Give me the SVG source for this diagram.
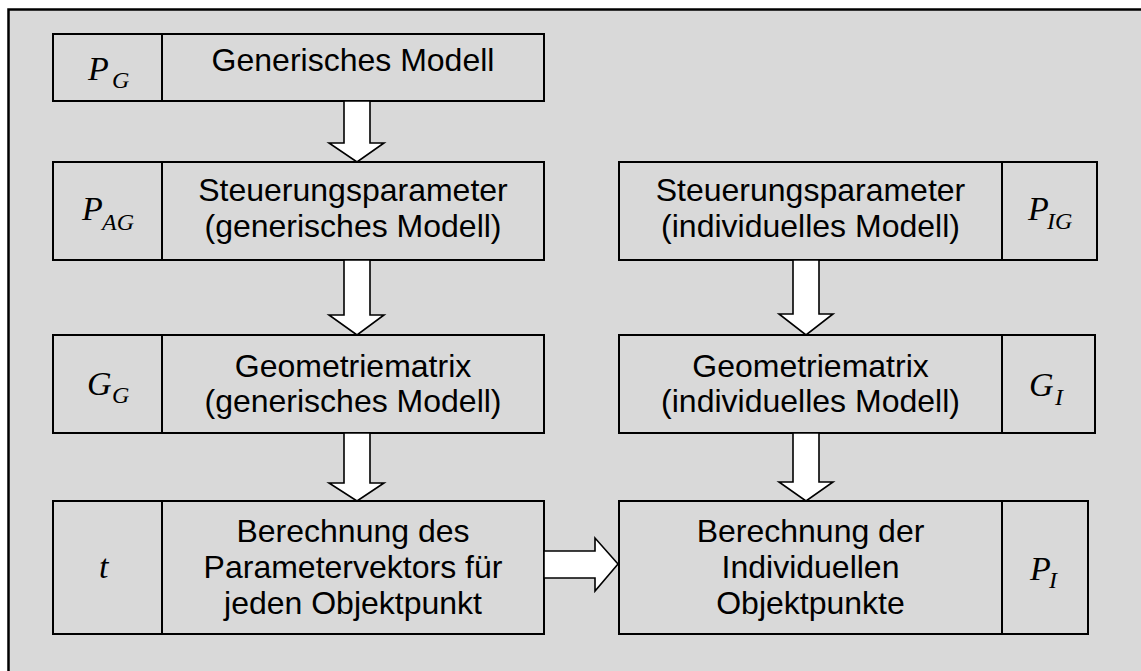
<svg xmlns="http://www.w3.org/2000/svg" width="1141" height="671" viewBox="0 0 1141 671">
<style>
.box{fill:#d9d9d9;stroke:#000;stroke-width:2}
.t{font-family:"Liberation Sans",Arial,sans-serif;font-size:32px;fill:#000;text-anchor:middle}
.m{font-family:"Liberation Serif","Times New Roman",serif;font-style:italic;font-size:34px;fill:#000}
.s{font-size:24px}
.arr{fill:#fff;stroke:#000;stroke-width:1.6;stroke-linejoin:miter}
</style>
<rect x="0" y="0" width="1141" height="671" fill="#fff"/>
<rect x="8.5" y="9.5" width="1150" height="680" fill="#d9d9d9" stroke="#000" stroke-width="2.5"/>
<g id="n1">
<rect class="box" x="53" y="34" width="109" height="67"/>
<rect class="box" x="162" y="34" width="382" height="67"/>
<text class="m" x="88" y="80">P<tspan class="s" x="112" y="88">G</tspan></text>
<text class="t" x="353" y="71">Generisches Modell</text>
</g>
<g id="n2">
<rect class="box" x="53" y="162" width="109" height="98"/>
<rect class="box" x="162" y="162" width="382" height="98"/>
<text class="m" x="82" y="220">P<tspan class="s" x="102" y="230">AG</tspan></text>
<text class="t" x="353" y="201">Steuerungsparameter</text>
<text class="t" x="353" y="237">(generisches Modell)</text>
</g>
<g id="n3">
<rect class="box" x="53" y="335" width="109" height="98"/>
<rect class="box" x="162" y="335" width="382" height="98"/>
<text class="m" x="87" y="395">G<tspan class="s" x="112" y="403">G</tspan></text>
<text class="t" x="353" y="377">Geometriematrix</text>
<text class="t" x="353" y="412">(generisches Modell)</text>
</g>
<g id="n4">
<rect class="box" x="53" y="501" width="109" height="133"/>
<rect class="box" x="162" y="501" width="382" height="133"/>
<text class="m" x="99" y="578">t</text>
<text class="t" x="353" y="542">Berechnung des</text>
<text class="t" x="353" y="578">Parametervektors für</text>
<text class="t" x="353" y="614">jeden Objektpunkt</text>
</g>
<g id="n5">
<rect class="box" x="619" y="162" width="383" height="98"/>
<rect class="box" x="1002" y="162" width="95" height="98"/>
<text class="t" x="810.5" y="201">Steuerungsparameter</text>
<text class="t" x="810.5" y="237">(individuelles Modell)</text>
<text class="m" x="1028" y="220">P<tspan class="s" x="1047" y="229">IG</tspan></text>
</g>
<g id="n6">
<rect class="box" x="619" y="335" width="383" height="98"/>
<rect class="box" x="1002" y="335" width="93" height="98"/>
<text class="t" x="810.5" y="377">Geometriematrix</text>
<text class="t" x="810.5" y="412">(individuelles Modell)</text>
<text class="m" x="1029" y="396">G<tspan class="s" x="1055" y="405">I</tspan></text>
</g>
<g id="n7">
<rect class="box" x="619" y="501" width="383" height="133"/>
<rect class="box" x="1002" y="501" width="86" height="133"/>
<text class="t" x="810.5" y="542">Berechnung der</text>
<text class="t" x="810.5" y="578">Individuellen</text>
<text class="t" x="810.5" y="614">Objektpunkte</text>
<text class="m" x="1030" y="580">P<tspan class="s" x="1049" y="588">I</tspan></text>
</g>
<g id="connectors">
<polygon class="arr" points="344,101 370,101 370,143 384,143 357,162 329,143 344,143"/>
<polygon class="arr" points="344,260 370,260 370,315 384,315 357,335 329,315 344,315"/>
<polygon class="arr" points="344,433 370,433 370,483 384,483 357,501 329,483 344,483"/>
<polygon class="arr" points="793,260 819,260 819,314 833,314 806,335 779,314 793,314"/>
<polygon class="arr" points="793,433 819,433 819,482 833,482 806,501 779,482 793,482"/>
<polygon class="arr" points="544,551 595,551 595,538 618,564 595,591 595,578 544,578"/>
</g>
</svg>
